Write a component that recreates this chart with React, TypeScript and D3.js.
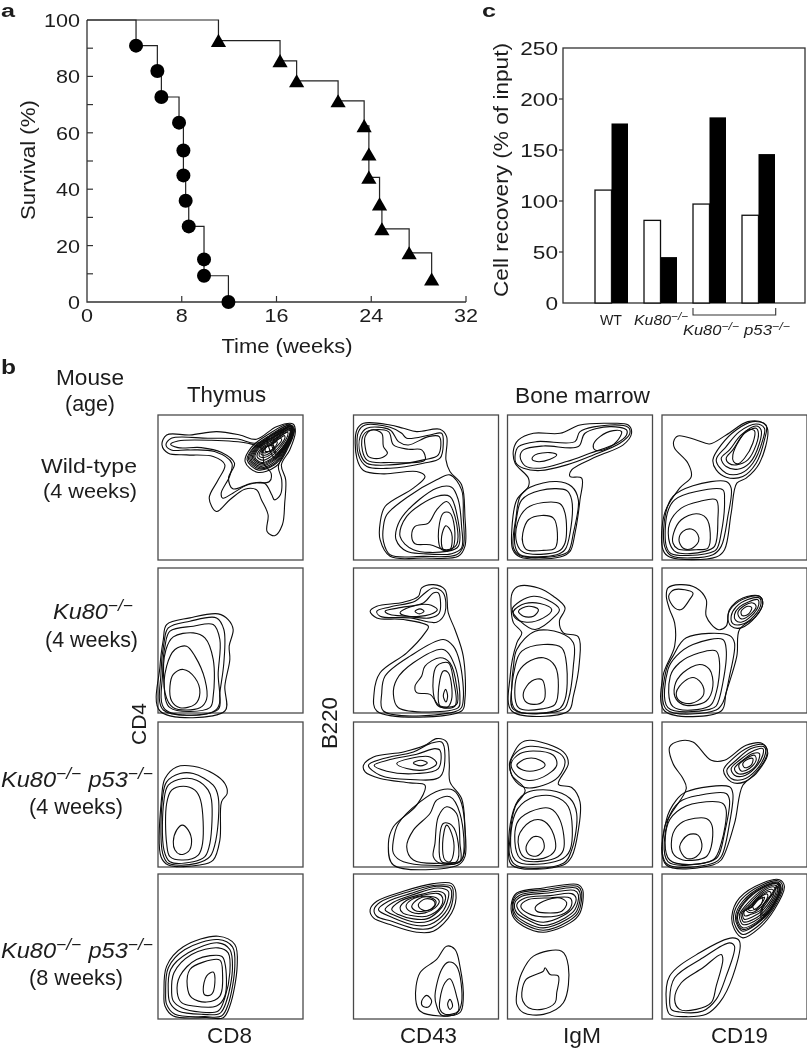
import React from "react";
import * as d3 from "d3";

type P = [number, number];

// ---------- panel a ----------
const koTimes = [4.14, 5.94, 6.28, 7.77, 8.14, 8.14, 8.33, 8.59, 9.88, 9.88, 11.94];
const koSurvival = [90.9, 81.9, 72.7, 63.6, 53.7, 44.9, 35.9, 26.8, 15.1, 9.3, 0];
const dkoTimes = [11.1, 16.3, 17.7, 21.2, 23.4, 23.8, 23.8, 24.7, 24.9, 27.2, 29.1];
const dkoSurvival = [92.7, 85.5, 78.4, 71.3, 62.5, 52.4, 44.2, 34.7, 25.9, 17.4, 8.1];
const aXTicks = [0, 8, 16, 24, 32];
const aYTicks = [0, 20, 40, 60, 80, 100];
const aYMinor = [10, 30, 50, 70, 90];

// ---------- panel c ----------
const cCategories = ["WT", "Ku80", "Ku80p53a", "Ku80p53b"];
const cWhite = [110.7, 81, 97, 86];
const cBlack = [176, 45, 182, 146];
const cYTicks = [0, 50, 100, 150, 200, 250];

// ---------- panel b contours: [marker intensity x, marker intensity y from top], 0-436 ----------
const thymusWT: P[][] = [
  [[12,90],[26,60],[96,60],[176,50],[246,60],[296,73],[356,35],[406,27],[413,50],[396,105],[371,150],[384,195],[381,265],[374,330],[351,363],[328,350],[331,300],[311,255],[296,225],[261,223],[216,255],[176,290],[154,250],[181,195],[201,150],[166,125],[86,120],[31,115]],
  [[24,90],[40,70],[150,70],[240,72],[290,85],[340,70],[400,35],[405,55],[385,105],[362,155],[372,195],[368,240],[350,255],[342,240],[320,205],[270,210],[225,235],[195,250],[190,235],[215,185],[222,145],[170,110],[90,105],[40,105]],
  [[38,88],[60,78],[160,76],[270,85],[310,100],[320,150],[340,175],[335,200],[280,205],[225,222],[212,190],[230,145],[190,112],[130,98],[60,98]],
  [[262,140],[280,98],[332,58],[392,28],[410,42],[388,105],[354,155],[298,172]],
  [[268,135],[285,100],[335,62],[395,30],[408,45],[385,105],[350,150],[300,165]],
  [[272,133],[288,100],[338,63],[396,31],[406,47],[382,105],[348,148],[302,161]],
  [[276,132],[292,100],[340,65],[398,33],[404,50],[380,105],[345,145],[305,158]],
  [[280,131],[295,100],[341,68],[398,35],[402,52],[378,104],[343,141],[306,154]],
  [[284,130],[298,100],[342,70],[398,38],[400,55],[376,103],[342,138],[308,150]],
  [[288,129],[301,100],[344,72],[397,41],[398,56],[374,103],[341,135],[310,146]],
  [[292,128],[304,100],[345,75],[396,44],[396,58],[372,102],[340,132],[312,143]],
  [[298,125],[310,100],[346,80],[390,52],[390,62],[366,100],[338,126],[315,136]],
  [[304,122],[315,100],[346,85],[380,62],[382,68],[360,100],[337,120],[318,128]],
  [[310,118],[320,100],[340,88],[368,70],[372,75],[352,100],[335,115],[321,121]],
  [[316,113],[324,98],[340,90],[358,80],[358,86],[346,102],[333,110],[323,114]],
  [[322,108],[326,96],[338,92],[347,92],[346,102],[336,108],[326,110]],
  [[330,70],[360,52],[402,34],[404,52],[380,100],[352,130],[338,110]],
  [[340,75],[368,56],[400,40],[400,56],[378,98],[356,120],[345,100]],
  [[345,80],[372,60],[398,46],[396,60],[372,100],[356,115],[350,98]],
];
const cd43WT: P[][] = [
  [[10,45],[30,25],[110,30],[150,40],[190,50],[260,43],[280,65],[278,135],[290,170],[325,210],[335,305],[335,395],[315,425],[210,430],[110,425],[80,375],[80,325],[95,275],[180,220],[215,185],[190,170],[90,177],[30,167],[10,130]],
  [[15,50],[35,30],[110,37],[145,55],[160,70],[230,60],[265,55],[270,85],[260,130],[210,145],[110,160],[40,155],[15,120]],
  [[20,65],[40,40],[110,45],[135,80],[165,90],[225,65],[258,65],[255,120],[210,135],[110,150],[40,145],[20,115]],
  [[25,75],[40,50],[105,50],[120,90],[165,103],[205,105],[215,135],[110,143],[40,135]],
  [[35,65],[55,45],[85,55],[90,95],[102,115],[80,130],[45,125],[35,95]],
  [[90,335],[100,300],[165,245],[250,195],[290,180],[325,225],[330,305],[330,395],[310,420],[210,425],[110,420],[90,380]],
  [[128,375],[130,340],[155,295],[250,220],[295,217],[315,255],[325,335],[325,400],[295,417],[210,417],[160,410]],
  [[140,365],[160,305],[250,245],[290,245],[310,295],[315,395],[280,410],[180,405]],
  [[175,365],[185,335],[225,325],[250,285],[280,260],[305,305],[310,390],[280,405],[230,390],[185,387]],
  [[255,365],[270,295],[290,295],[305,355],[295,405],[265,405]],
  [[265,365],[278,333],[295,355],[290,405],[270,405]],
];
const igmWT: P[][] = [
  [[18,105],[33,75],[78,55],[158,55],[218,30],[308,25],[363,30],[373,55],[348,90],[268,125],[193,165],[188,185],[223,190],[218,255],[203,355],[188,410],[158,427],[38,427],[16,405],[13,345],[28,255],[63,215],[63,190],[23,145]],
  [[23,120],[33,95],[88,80],[203,80],[218,50],[308,30],[363,37],[368,55],[338,85],[258,120],[178,150],[98,167],[48,160],[26,145]],
  [[38,125],[48,105],[108,93],[213,95],[233,55],[308,35],[358,45],[358,60],[328,85],[248,115],[178,140],[98,160],[53,153]],
  [[74,133],[83,120],[128,113],[148,120],[128,133],[88,140]],
  [[258,90],[278,65],[318,47],[343,50],[328,80],[288,105],[263,105]],
  [[26,305],[38,245],[68,217],[148,200],[193,215],[213,255],[198,355],[183,410],[153,423],[38,423],[18,400]],
  [[28,305],[43,255],[98,227],[178,227],[193,255],[188,355],[173,405],[148,420],[38,420],[23,395]],
  [[30,325],[58,280],[108,263],[158,267],[173,295],[173,385],[153,410],[48,413],[28,385]],
  [[46,355],[63,315],[103,302],[138,310],[150,355],[143,400],[108,407],[58,405],[46,385]],
];
const cd19WT: P[][] = [
  [[35,80],[48,63],[103,75],[143,87],[193,60],[258,20],[303,23],[318,45],[293,145],[253,190],[225,205],[208,295],[188,405],[163,427],[23,427],[3,405],[8,295],[53,220],[88,185],[78,145],[38,100]],
  [[153,135],[178,90],[223,45],[273,20],[313,30],[308,75],[283,145],[243,185],[193,187],[163,165]],
  [[163,135],[193,95],[233,50],[283,27],[308,40],[303,75],[273,145],[238,175],[193,175]],
  [[178,130],[203,105],[238,60],[283,33],[298,45],[293,85],[263,145],[228,163],[193,155]],
  [[193,130],[213,105],[248,55],[283,40],[290,55],[283,90],[258,135],[223,150],[201,145]],
  [[213,120],[233,75],[258,45],[278,47],[273,85],[248,130],[228,147],[215,140]],
  [[11,295],[33,245],[93,213],[193,200],[208,220],[198,305],[178,395],[153,420],[28,423],[8,395]],
  [[16,295],[38,255],[103,230],[183,225],[188,255],[178,355],[163,405],[133,417],[28,417],[13,395]],
  [[23,325],[58,280],[113,260],[163,255],[168,315],[158,395],[128,410],[43,413],[23,385]],
  [[35,355],[58,315],[103,297],[133,310],[145,355],[138,400],[103,405],[48,403],[33,385]],
  [[51,375],[63,350],[88,343],[108,360],[110,380],[88,402],[63,400]],
];
const thymusKu: P[][] = [
  [[16,215],[26,170],[96,150],[181,138],[211,155],[226,185],[214,235],[216,275],[201,355],[201,430],[6,430],[6,295]],
  [[18,225],[31,180],[96,160],[176,150],[198,185],[198,285],[186,375],[181,425],[16,427],[9,315]],
  [[21,235],[36,190],[106,175],[166,170],[186,215],[181,315],[176,425],[21,425],[14,315]],
  [[24,245],[46,207],[106,195],[141,210],[166,275],[166,385],[156,420],[36,420],[18,345]],
  [[26,295],[51,245],[86,235],[111,265],[141,335],[146,395],[126,420],[46,420],[21,375]],
  [[36,355],[46,320],[76,305],[111,330],[126,375],[111,410],[66,420],[41,400]],
];
const cd43Ku: P[][] = [
  [[50,130],[70,115],[150,103],[195,85],[205,60],[240,50],[275,65],[285,135],[305,185],[330,265],[335,395],[325,430],[70,430],[62,375],[80,315],[160,255],[215,195],[225,175],[150,155],[70,150]],
  [[70,130],[110,117],[185,100],[215,75],[240,60],[270,75],[275,135],[250,163],[170,150],[80,145]],
  [[95,130],[135,120],[210,105],[240,75],[255,75],[258,135],[230,150],[160,145],[110,140]],
  [[140,135],[170,117],[225,110],[252,125],[230,140],[165,145]],
  [[185,130],[200,123],[212,130],[198,138]],
  [[85,375],[95,325],[170,265],[270,215],[300,235],[320,285],[330,395],[320,425],[90,430]],
  [[120,380],[130,335],[180,285],[270,245],[305,295],[320,395],[315,420],[135,420]],
  [[185,355],[205,325],[215,295],[260,270],[290,285],[310,355],[310,410],[260,415],[230,380],[190,375]],
  [[240,375],[250,295],[285,285],[300,335],[305,415],[255,415]],
  [[255,375],[270,310],[285,315],[295,395],[280,420],[260,415]],
  [[270,385],[277,365],[283,385],[278,403]],
];
const igmKu: P[][] = [
  [[14,75],[33,55],[93,60],[138,85],[173,120],[156,160],[168,195],[213,207],[216,285],[198,385],[183,430],[13,430],[8,325],[28,225],[43,195],[18,165],[11,125]],
  [[14,125],[38,100],[78,85],[118,95],[156,125],[143,145],[83,185],[38,160]],
  [[18,130],[53,107],[98,107],[133,125],[108,150],[58,163],[23,150]],
  [[33,130],[63,115],[93,125],[78,145],[48,145]],
  [[18,295],[28,245],[83,190],[158,195],[198,225],[198,295],[183,395],[168,425],[18,425],[13,355]],
  [[23,295],[43,250],[108,230],[163,240],[178,295],[173,395],[153,425],[23,425]],
  [[28,325],[58,285],[108,270],[143,295],[153,355],[143,410],[108,423],[33,420]],
  [[48,375],[73,340],[103,335],[113,365],[108,400],[78,410],[53,400]],
];
const cd19Ku: P[][] = [
  [[13,85],[18,60],[53,50],[103,60],[133,95],[133,145],[168,185],[193,175],[203,125],[243,90],[293,85],[303,105],[283,145],[233,185],[225,265],[193,375],[178,430],[8,430],[3,325],[38,235],[38,165],[23,125]],
  [[20,85],[38,65],[93,75],[83,95],[58,125],[38,120]],
  [[198,145],[213,115],[253,90],[293,85],[303,105],[283,145],[238,180],[208,175]],
  [[208,145],[223,117],[258,95],[293,90],[298,105],[278,143],[238,170],[213,167]],
  [[218,140],[233,117],[258,103],[288,95],[291,110],[268,145],[238,163],[221,157]],
  [[228,135],[248,113],[273,105],[283,115],[265,140],[238,153]],
  [[238,130],[258,115],[270,120],[258,140],[241,143]],
  [[13,305],[33,265],[73,210],[203,203],[218,225],[203,325],[183,405],[163,427],[13,425]],
  [[18,305],[43,265],[93,230],[183,215],[193,245],[183,345],[163,415],[143,425],[18,420]],
  [[25,325],[53,285],[113,255],[163,250],[173,285],[163,375],[143,415],[33,417]],
  [[38,355],[63,315],[113,290],[143,305],[153,355],[133,400],[73,413],[43,395]],
  [[43,375],[68,340],[98,330],[123,355],[123,385],[88,407],[53,400]],
];
const thymusDko4: P[][] = [
  [[11,225],[21,170],[56,135],[106,133],[166,155],[201,185],[208,215],[191,240],[186,355],[166,415],[126,430],[31,430],[9,405]],
  [[14,225],[26,180],[66,155],[106,155],[166,190],[181,225],[174,355],[156,405],[116,425],[31,425],[14,395]],
  [[18,235],[31,190],[76,170],[116,175],[151,205],[161,235],[156,365],[141,405],[106,420],[36,420],[18,385]],
  [[26,245],[41,205],[76,193],[111,205],[128,235],[134,365],[121,400],[76,415],[36,405],[26,365]],
  [[46,360],[56,325],[73,310],[91,325],[101,360],[91,390],[66,398],[51,385]],
];
const cd43Dko4: P[][] = [
  [[30,130],[60,105],[150,90],[215,70],[250,50],[280,60],[288,125],[290,180],[325,230],[335,315],[335,405],[315,430],[120,430],[105,365],[120,315],[190,250],[215,190],[170,183],[80,170],[35,150]],
  [[45,130],[90,110],[180,90],[230,65],[265,60],[275,100],[260,165],[170,173],[80,160]],
  [[62,130],[110,113],[190,97],[245,80],[260,85],[255,140],[190,155],[100,148]],
  [[130,125],[170,110],[230,105],[250,125],[220,143],[160,140]],
  [[180,123],[202,115],[222,123],[202,132]],
  [[120,355],[135,305],[200,240],[260,205],[300,205],[325,245],[330,405],[310,425],[150,420],[120,395]],
  [[160,375],[180,325],[230,275],[250,235],[290,225],[320,275],[325,415],[290,423],[180,415]],
  [[245,365],[255,285],[280,255],[310,275],[320,365],[320,420],[260,425],[240,405]],
  [[258,365],[270,305],[295,310],[315,365],[310,420],[265,420]],
  [[268,365],[280,310],[295,335],[302,385],[290,420],[275,415]],
];
const igmDko4: P[][] = [
  [[13,105],[38,65],[68,55],[168,90],[183,125],[153,187],[193,197],[218,240],[213,325],[193,405],[168,430],[13,430],[8,345],[23,255],[53,205],[13,160],[6,125]],
  [[8,125],[28,90],[68,73],[158,95],[173,120],[153,165],[108,190],[53,197],[18,170]],
  [[11,125],[38,95],[78,87],[138,100],[148,130],[108,165],[58,175],[23,155]],
  [[28,130],[58,110],[98,115],[113,130],[88,145],[48,145]],
  [[18,265],[53,215],[128,205],[188,230],[208,275],[193,385],[168,425],[18,425]],
  [[23,275],[68,230],[138,223],[183,255],[188,385],[158,415],[23,415]],
  [[28,305],[68,270],[128,260],[158,295],[168,385],[143,410],[38,410]],
  [[33,345],[68,300],[103,295],[133,325],[143,385],[108,410],[48,405]],
  [[56,375],[78,345],[103,350],[110,380],[88,403],[63,397]],
];
const cd19Dko4: P[][] = [
  [[23,75],[53,57],[93,60],[148,115],[188,115],[253,70],[303,65],[318,95],[283,155],[243,190],[218,305],[178,415],[153,430],[13,430],[8,315],[73,200],[63,170],[33,125]],
  [[185,145],[213,110],[263,75],[308,70],[316,95],[288,145],[248,180],[208,180]],
  [[195,145],[223,115],[268,80],[308,75],[311,95],[283,145],[243,173],[208,170]],
  [[208,140],[233,115],[268,90],[303,80],[303,100],[278,140],[243,163],[218,160]],
  [[218,140],[243,115],[273,95],[293,95],[283,130],[253,153],[228,155]],
  [[231,130],[253,110],[278,100],[283,115],[263,140],[238,147]],
  [[243,125],[258,112],[273,110],[268,130],[248,137]],
  [[13,295],[43,235],[73,210],[203,195],[213,215],[203,305],[178,405],[153,425],[13,425]],
  [[18,295],[53,240],[113,220],[193,215],[203,235],[188,335],[168,405],[143,420],[18,420]],
  [[18,305],[58,260],[133,240],[183,245],[193,265],[178,365],[153,415],[23,415]],
  [[33,335],[63,300],[133,290],[150,310],[148,375],[133,405],[63,415],[33,395]],
  [[53,375],[78,340],[108,340],[120,375],[103,405],[73,410]],
];
const thymusDko8: P[][] = [
  [[18,357],[26,277],[76,219],[181,187],[231,212],[238,277],[216,397],[196,432],[146,432],[46,427],[21,397]],
  [[23,357],[31,282],[81,227],[181,197],[224,219],[231,277],[211,392],[191,427],[141,429],[51,422],[26,392]],
  [[31,357],[38,287],[91,237],[181,207],[216,227],[224,282],[206,382],[186,419],[136,422],[61,412],[36,387]],
  [[41,357],[48,297],[101,242],[181,222],[211,237],[216,297],[201,372],[181,412],[126,415],[71,402],[46,382]],
  [[58,357],[66,307],[116,257],[191,247],[201,267],[201,367],[176,397],[106,397],[71,387]],
  [[88,337],[96,287],[136,265],[186,259],[194,297],[186,367],[146,385],[101,372]],
  [[136,347],[146,307],[166,295],[171,327],[161,362],[141,364]],
];
const cd43Dko8: P[][] = [
  [[50,107],[70,82],[150,52],[240,29],[295,29],[308,57],[295,117],[240,172],[190,175],[110,152],[60,132]],
  [[62,107],[80,85],[160,55],[245,34],[295,37],[300,62],[285,117],[235,162],[190,165],[115,142],[70,127]],
  [[75,107],[105,82],[170,59],[250,37],[290,42],[295,67],[275,117],[230,152],[190,155],[120,132]],
  [[95,107],[120,85],[180,62],[255,42],[285,52],[285,72],[265,117],[225,142],[185,145],[130,127]],
  [[115,107],[140,82],[190,65],[255,52],[275,62],[275,82],[255,112],[220,135],[180,135],[135,122]],
  [[140,102],[160,79],[205,65],[255,59],[268,72],[260,102],[220,127],[175,125],[148,117]],
  [[158,97],[175,77],[215,67],[250,72],[258,82],[245,102],[215,117],[175,115]],
  [[175,97],[195,75],[225,69],[248,82],[240,102],[210,112],[185,110]],
  [[195,92],[215,75],[240,79],[245,92],[225,109],[205,107]],
  [[187,377],[200,297],[250,257],[280,217],[305,227],[320,277],[330,377],[320,417],[260,427],[200,412]],
  [[245,367],[265,287],[285,265],[310,277],[325,387],[310,419],[265,425],[250,397]],
  [[260,377],[275,327],[290,315],[310,367],[315,412],[275,422],[260,407]],
  [[283,392],[290,377],[298,397],[290,407]],
  [[205,382],[220,365],[235,382],[225,400],[208,397]],
];
const igmDko8: P[][] = [
  [[13,82],[28,57],[108,42],[213,32],[226,47],[218,117],[188,147],[108,175],[48,157],[16,127]],
  [[16,82],[33,59],[113,47],[210,37],[222,52],[213,115],[183,142],[108,169],[53,152],[20,125]],
  [[18,85],[38,63],[118,52],[206,42],[218,57],[208,112],[178,137],[108,162],[58,147],[24,122]],
  [[22,87],[43,67],[123,57],[200,49],[213,62],[203,107],[173,132],[108,155],[63,139],[28,117]],
  [[28,92],[53,72],[128,65],[193,59],[206,72],[196,102],[168,125],[108,145],[63,132],[36,112]],
  [[40,97],[63,77],[128,72],[188,72],[193,92],[173,117],[108,129],[63,119]],
  [[83,102],[108,82],[158,72],[178,87],[163,112],[113,117],[88,112]],
  [[28,357],[43,297],[78,247],[163,232],[183,277],[168,387],[108,422],[48,417],[28,392]],
  [[43,357],[56,317],[108,292],[113,282],[128,302],[153,307],[148,357],[143,387],[103,407],[63,402],[46,382]],
];
const cd19Dko8: P[][] = [
  [[210,127],[233,72],[303,27],[353,17],[368,37],[338,107],[293,162],[243,192],[218,167]],
  [[215,127],[238,77],[303,32],[351,21],[363,39],[333,107],[288,157],[243,182],[223,162]],
  [[221,127],[243,82],[303,37],[349,25],[358,42],[328,107],[283,152],[243,172],[228,157]],
  [[225,127],[246,85],[303,40],[347,27],[355,43],[325,107],[282,150],[243,167],[230,155]],
  [[227,127],[248,87],[303,42],[345,29],[353,45],[323,107],[281,147],[243,162],[233,152]],
  [[233,122],[254,92],[303,47],[341,34],[348,48],[318,107],[278,142],[243,152],[236,142]],
  [[238,120],[258,95],[303,52],[337,39],[343,52],[312,107],[274,137],[245,144],[240,135]],
  [[243,118],[262,98],[303,57],[330,46],[337,55],[305,107],[270,130],[247,136]],
  [[247,112],[266,100],[300,64],[324,53],[328,60],[298,107],[266,122],[249,126]],
  [[253,107],[270,100],[296,70],[316,60],[318,68],[292,105],[263,116]],
  [[258,103],[273,90],[292,76],[308,70],[306,78],[286,102],[264,110]],
  [[272,95],[288,72],[302,70],[298,92],[280,108]],
  [[300,100],[330,60],[350,30],[358,45],[330,105],[300,135]],
  [[305,95],[332,62],[348,38],[352,48],[328,102],[302,125]],
  [[13,387],[23,307],[113,237],[213,192],[233,202],[213,307],[173,387],[133,422],[73,429],[23,422]],
  [[23,377],[38,312],[123,252],[203,207],[218,217],[193,307],[163,377],[123,412],[53,415],[28,407]],
  [[38,377],[58,327],[123,282],[178,242],[183,257],[163,337],[148,387],[103,407],[53,407]],
];
const panelRows: P[][][][] = [
  [thymusWT, cd43WT, igmWT, cd19WT],
  [thymusKu, cd43Ku, igmKu, cd19Ku],
  [thymusDko4, cd43Dko4, igmDko4, cd19Dko4],
  [thymusDko8, cd43Dko8, igmDko8, cd19Dko8],
];

// ---------- layout ----------
const FONT = "'Liberation Sans', Arial, sans-serif";
const INK = "#1c1c1c";
const colX = [158, 353.5, 507.5, 662];
const rowY = [415, 568, 722, 874];
const PANEL = 145;

const sup = "\u2212/\u2212";

function Geno({ x, y, parts, size, len }: { x: number; y: number; parts: string[]; size: number; len?: number }) {
  const kids: any[] = [];
  parts.forEach((p, i) => {
    kids.push(
      <tspan key={"s" + i} fontStyle="italic" fontSize={size} dy={i > 0 ? size * 0.36 : 0} dx={i > 0 ? size * 0.3 : 0}>
        {p}
      </tspan>
    );
    kids.push(
      <tspan key={"u" + i} dy={-size * 0.36} fontSize={size * 0.74} fontStyle="italic">
        {sup}
      </tspan>
    );
  });
  return (
    <text x={x} y={y} fontSize={size} textAnchor="middle" fill={INK} textLength={len} lengthAdjust={len ? "spacingAndGlyphs" : undefined}>
      {kids}
    </text>
  );
}

function Label({ x, y, t, size = 20, len, rotate, anchor = "middle", weight }: { x: number; y: number; t: string; size?: number; len?: number; rotate?: boolean; anchor?: string; weight?: string }) {
  return (
    <text
      x={rotate ? 0 : x}
      y={rotate ? 0 : y}
      transform={rotate ? `translate(${x},${y}) rotate(-90)` : undefined}
      fontSize={size}
      fill={INK}
      textAnchor={anchor}
      fontWeight={weight}
      textLength={len}
      lengthAdjust={len ? "spacingAndGlyphs" : undefined}
    >
      {t}
    </text>
  );
}

function ContourPanel({ x, y, contours }: { x: number; y: number; contours: P[][] }) {
  const sx = d3.scaleLinear().domain([0, 436]).range([x, x + PANEL]);
  const sy = d3.scaleLinear().domain([0, 436]).range([y, y + PANEL]);
  const line = d3.line<P>().x((d) => sx(d[0])).y((d) => sy(d[1])).curve(d3.curveCatmullRomClosed.alpha(0.5));
  return (
    <g>
      <rect x={x} y={y} width={PANEL} height={PANEL} fill="#fff" stroke="#4a4a4a" strokeWidth={1.3} />
      {contours.map((c, i) => (
        <path key={i} d={line(c) || ""} fill="none" stroke="#0c0c0c" strokeWidth={1.1} />
      ))}
    </g>
  );
}

export default function App() {
  // panel a
  const ax = d3.scaleLinear().domain([0, 32]).range([87, 466]);
  const ay = d3.scaleLinear().domain([0, 100]).range([302, 20]);
  const step = d3.line<number[]>().x((d) => ax(d[0])).y((d) => ay(d[1])).curve(d3.curveStepAfter);
  const koPts = [[0, 100], ...koTimes.map((t, i) => [t, koSurvival[i]])];
  const dkoPts = [[0, 100], ...dkoTimes.map((t, i) => [t, dkoSurvival[i]])];
  const triangle = d3.symbol().type(d3.symbolTriangle).size(100)() || "";

  // panel c
  const cy = d3.scaleLinear().domain([0, 250]).range([303, 48]);
  const cx = d3.scaleBand<string>().domain(cCategories).range([595, 775]).paddingInner(16 / 49).paddingOuter(0);
  const inner = d3.scaleBand<string>().domain(["white", "black"]).range([0, cx.bandwidth()]);

  return (
    <svg width={808} height={1050} viewBox="0 0 808 1050" style={{ position: "absolute", left: 0, top: 0, background: "#fff" }} fontFamily={FONT}>
      <defs>
        <filter id="soft" x="0" y="0" width="100%" height="100%">
          <feGaussianBlur stdDeviation="0.35" />
        </filter>
      </defs>
      <g filter="url(#soft)">
        {/* panel letters */}
        <Label x={1} y={16.5} t="a" size={18} anchor="start" weight="bold" len={14} />
        <Label x={1} y={374} t="b" size={21} anchor="start" weight="bold" len={15} />
        <Label x={482} y={16.5} t="c" size={18} anchor="start" weight="bold" len={14} />

        {/* panel a axes */}
        <path d={`M${ax(0)},${ay(100)}V${ay(0)}H${ax(32)}`} fill="none" stroke="#333" strokeWidth={1.3} />
        {aXTicks.map((t) => (
          <g key={t}>
            {t > 0 && <line x1={ax(t)} x2={ax(t)} y1={ay(0)} y2={ay(0) - 6} stroke="#333" strokeWidth={1.2} />}
            <Label x={ax(t)} y={322} t={String(t)} size={19} len={String(t).length * 12} />
          </g>
        ))}
        {aYTicks.map((t) => (
          <g key={t}>
            {t > 0 && t < 100 && <line x1={ax(0)} x2={ax(0) + 6} y1={ay(t)} y2={ay(t)} stroke="#333" strokeWidth={1.2} />}
            <Label x={80} y={ay(t) + 7} t={String(t)} size={19} anchor="end" len={String(t).length * 12} />
          </g>
        ))}
        {aYMinor.map((t) => (
          <line key={t} x1={ax(0)} x2={ax(0) + 6} y1={ay(t)} y2={ay(t)} stroke="#333" strokeWidth={1.2} />
        ))}
        <Label x={35} y={160} t="Survival (%)" size={20} len={120} rotate />
        <Label x={287} y={353} t="Time (weeks)" size={20} len={131} />

        {/* survival curves */}
        <path d={step(dkoPts as any) || ""} fill="none" stroke="#222" strokeWidth={1.2} />
        <path d={step(koPts as any) || ""} fill="none" stroke="#222" strokeWidth={1.2} />
        {dkoTimes.map((t, i) => (
          <path key={i} d={triangle} transform={`translate(${ax(t)},${ay(dkoSurvival[i]) + 2})`} fill="#000" />
        ))}
        {koTimes.map((t, i) => (
          <circle key={i} cx={ax(t)} cy={ay(koSurvival[i])} r={7} fill="#000" />
        ))}

        {/* panel c */}
        <rect x={563} y={48} width={242} height={255} fill="none" stroke="#333" strokeWidth={1.3} />
        {cYTicks.map((t) => (
          <g key={t}>
            {t > 0 && t < 250 && <line x1={559} x2={563} y1={cy(t)} y2={cy(t)} stroke="#333" strokeWidth={1.2} />}
            <Label x={558} y={cy(t) + 7} t={String(t)} size={19} anchor="end" len={String(t).length * 12.6} />
          </g>
        ))}
        <Label x={508} y={170} t="Cell recovery (% of input)" size={20} len={254} rotate />
        {cCategories.map((c, i) => (
          <g key={c}>
            <rect x={(cx(c) || 0) + (inner("white") || 0)} y={cy(cWhite[i])} width={inner.bandwidth()} height={cy(0) - cy(cWhite[i])} fill="#fff" stroke="#111" strokeWidth={1.3} />
            <rect x={(cx(c) || 0) + (inner("black") || 0)} y={cy(cBlack[i])} width={inner.bandwidth()} height={cy(0) - cy(cBlack[i])} fill="#000" />
          </g>
        ))}
        <Label x={611} y={325} t="WT" size={14} len={22} />
        <Geno x={661} y={325} parts={["Ku80"]} size={15} len={54} />
        <Geno x={711} y={335} parts={["Ku80"]} size={15} len={56} />
        <Geno x={767} y={335} parts={["p53"]} size={15} len={46} />
        <path d="M693,308V315H775.7V308" fill="none" stroke="#333" strokeWidth={1.1} />

        {/* panel b labels */}
        <Label x={90} y={385} t="Mouse" size={22} len={68} />
        <Label x={90} y={411} t="(age)" size={22} len={50} />
        <Label x={226.5} y={402} t="Thymus" size={22} len={79} />
        <Label x={582.5} y={403} t="Bone marrow" size={22} len={135} />
        <Label x={89} y={473} t="Wild-type" size={21} len={96} />
        <Label x={90} y={498} t="(4 weeks)" size={21} len={94} />
        <Geno x={93} y={619} parts={["Ku80"]} size={22} len={80} />
        <Label x={91.5} y={647} t="(4 weeks)" size={22} len={93} />
        <Geno x={77} y={787} parts={["Ku80", "p53"]} size={22} len={152} />
        <Label x={76} y={814} t="(4 weeks)" size={22} len={94} />
        <Geno x={77} y={958} parts={["Ku80", "p53"]} size={22} len={152} />
        <Label x={76} y={985} t="(8 weeks)" size={22} len={94} />
        <Label x={146} y={724} t="CD4" size={21} len={42} rotate />
        <Label x={337} y={723} t="B220" size={22} len={52} rotate />
        <Label x={229.5} y={1043} t="CD8" size={22} len={45} />
        <Label x={428.5} y={1043} t="CD43" size={22} len={57} />
        <Label x={582} y={1043} t="IgM" size={22} len={38} />
        <Label x={739.5} y={1043} t="CD19" size={22} len={57} />

        {/* contour panels */}
        {panelRows.map((row, r) =>
          row.map((contours, c) => <ContourPanel key={`${r}-${c}`} x={colX[c]} y={rowY[r]} contours={contours} />)
        )}
      </g>
    </svg>
  );
}
